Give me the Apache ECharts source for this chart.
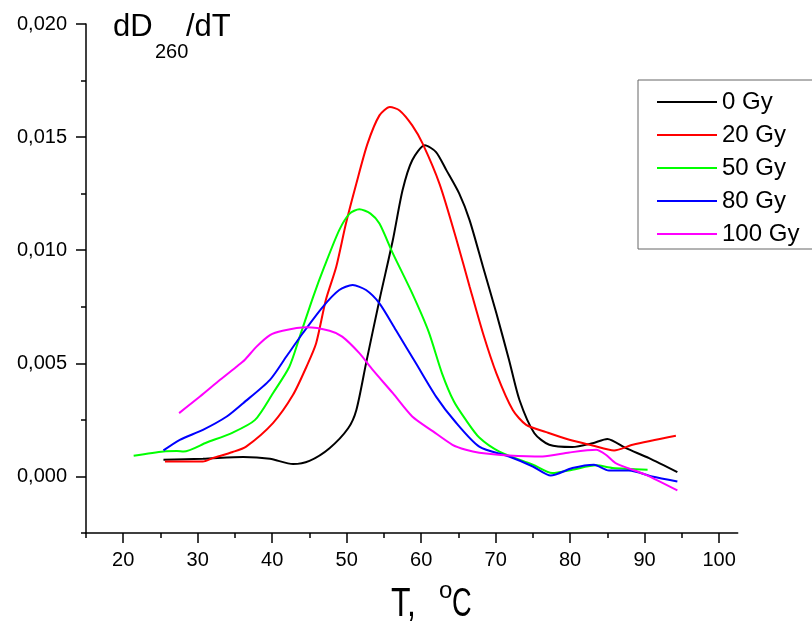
<!DOCTYPE html>
<html>
<head>
<meta charset="utf-8">
<script src="https://cdn.jsdelivr.net/npm/echarts@6/dist/echarts.min.js"></script>
<style>html,body{margin:0;padding:0;background:#fff;}#c{width:812px;height:625px;}</style>
</head>
<body>
<div id="c"></div>
<script>
// ---- data ----
const seriesNames = ['0 Gy', '20 Gy', '50 Gy', '80 Gy', '100 Gy'];

const t0 = [25.4, 30.7, 36.1, 39.7, 42.8, 45.0, 47.7, 50.2, 51.3, 52.6, 54.4, 56.2, 57.5, 58.8, 60.5, 62.0, 63.4, 65.1, 66.5, 68.3, 70.1, 71.8, 73.2, 75.2, 77.2, 80.3, 83.0, 85.0, 87.5, 90.6, 94.4];
const v0 = [0.00074, 0.00078, 0.00086, 0.00078, 0.00055, 0.00069, 0.00125, 0.00213, 0.00294, 0.0050, 0.0078, 0.01045, 0.01265, 0.01398, 0.01464, 0.01434, 0.01353, 0.01251, 0.01133, 0.00927, 0.00721, 0.00515, 0.00338, 0.00191, 0.0014, 0.0013, 0.00147, 0.00166, 0.00125, 0.00081, 0.00019];

const t20 = [25.6, 30.7, 32.0, 34.7, 36.5, 40.1, 42.8, 44.6, 45.9, 47.2, 48.6, 49.9, 51.3, 52.8, 54.4, 55.8, 57.1, 58.8, 60.2, 62.5, 64.8, 66.5, 68.3, 70.1, 72.3, 74.1, 76.8, 79.9, 83.0, 85.9, 88.4, 94.2];
const v20 = [0.00066, 0.00066, 0.00081, 0.00108, 0.00132, 0.00236, 0.00361, 0.00485, 0.00589, 0.0078, 0.00927, 0.01118, 0.01295, 0.01471, 0.01596, 0.01633, 0.01618, 0.01552, 0.01471, 0.0129, 0.0104, 0.0084, 0.00633, 0.00456, 0.00294, 0.00228, 0.00196, 0.00162, 0.00137, 0.00115, 0.0014, 0.0018];

const t50 = [21.4, 25.4, 27.2, 28.1, 31.2, 34.7, 37.7, 40.1, 42.3, 43.7, 45.5, 47.0, 49.0, 50.4, 51.7, 53.2, 54.4, 56.2, 58.8, 61.0, 62.8, 64.4, 66.0, 67.8, 70.5, 75.0, 77.6, 80.3, 83.5, 85.7, 90.4];
const v50 = [0.00091, 0.0011, 0.00112, 0.0011, 0.0015, 0.00194, 0.0025, 0.00368, 0.00485, 0.00618, 0.00794, 0.00927, 0.01089, 0.01162, 0.01181, 0.01162, 0.01118, 0.00986, 0.00809, 0.0064, 0.00456, 0.00331, 0.0025, 0.00172, 0.0011, 0.00052, 0.00015, 0.0003, 0.00049, 0.00037, 0.0003];

const t80 = [25.4, 27.6, 30.7, 33.9, 36.1, 39.7, 41.9, 44.1, 46.8, 49.0, 50.8, 52.6, 54.4, 56.6, 59.3, 62.0, 64.5, 67.8, 71.8, 75.0, 77.4, 80.3, 83.2, 85.2, 87.9, 91.0, 94.4];
const v80 = [0.00115, 0.00162, 0.00206, 0.00265, 0.00324, 0.00427, 0.0053, 0.00633, 0.0075, 0.00824, 0.00846, 0.00824, 0.00765, 0.00647, 0.005, 0.00353, 0.00245, 0.00132, 0.00088, 0.00044, 0.00004, 0.00037, 0.00052, 0.00026, 0.00026, 0.0, -0.00022];

const t100 = [27.5, 30.3, 33.0, 35.2, 36.3, 37.9, 39.7, 41.4, 44.6, 47.7, 49.4, 51.7, 53.5, 56.2, 58.8, 61.6, 64.2, 66.0, 67.8, 71.8, 76.3, 79.9, 83.5, 84.8, 86.1, 90.1, 94.4];
const v100 = [0.0028, 0.00353, 0.00427, 0.00485, 0.00515, 0.00574, 0.00625, 0.00644, 0.00659, 0.00644, 0.00618, 0.00545, 0.00471, 0.00368, 0.00265, 0.00199, 0.0014, 0.00118, 0.00105, 0.00093, 0.00088, 0.00106, 0.00118, 0.00096, 0.00059, 0.00008, -0.00062];

const xTickLabels = [20, 30, 40, 50, 60, 70, 80, 90, 100];
const yTickLabels = [0, 0.005, 0.010, 0.015, 0.020];
// ---------------------------------------

const colors = ['#000000', '#ff0000', '#00ff00', '#0000ff', '#ff00ff'];
const tArr = [t0, t20, t50, t80, t100];
const vArr = [v0, v20, v50, v80, v100];
const FONT = 'Liberation Sans, Arial, sans-serif';

// plot geometry (pixels)
const X0 = 86, Y0 = 24, W = 651.7, H = 509;
const XMIN = 15, XMAX = 102.5, YMIN = -0.0025, YMAX = 0.020;
const px = v => X0 + (v - XMIN) / (XMAX - XMIN) * W;
const py = v => Y0 + (YMAX - v) / (YMAX - YMIN) * H;

const chart = echarts.init(document.getElementById('c'), null, {renderer: 'canvas'});

const series = seriesNames.map((name, i) => ({
  name: name,
  type: 'line',
  xAxisIndex: 0,
  yAxisIndex: 0,
  data: tArr[i].map((t, k) => [t, vArr[i][k]]),
  showSymbol: false,
  symbol: 'none',
  smooth: 0.25,
  lineStyle: {color: colors[i], width: 2},
  itemStyle: {color: colors[i]},
  emphasis: {disabled: true}
}));

const axLine = () => ({color: '#000', width: 1.5});
const hidden = (extra) => Object.assign({type: 'value', show: false, min: 0, max: 1}, extra || {});

chart.setOption({
  animation: false,
  backgroundColor: '#fff',
  grid: [
    {left: X0, top: Y0, width: W, height: H, containLabel: false},                       // main
    {left: px(20), top: Y0, width: px(100) - px(20), height: H, containLabel: false},    // x major ticks
    {left: px(15), top: Y0, width: px(95) - px(15), height: H, containLabel: false},     // x minor ticks
    {left: X0, top: py(0.020), width: W, height: py(0) - py(0.020), containLabel: false},// y major ticks
    {left: X0, top: py(0.0175), width: W, height: py(-0.0025) - py(0.0175), containLabel: false} // y minor ticks
  ],
  xAxis: [
    {
      gridIndex: 0, type: 'value', min: XMIN, max: XMAX,
      axisLine: {show: true, onZero: false, lineStyle: axLine()},
      axisTick: {show: false},
      axisLabel: {show: true, margin: 17, fontSize: 20, fontFamily: FONT, color: '#000', customValues: xTickLabels},
      splitLine: {show: false}
    },
    {
      gridIndex: 1, type: 'value', min: 20, max: 100, interval: 10, position: 'bottom',
      axisLine: {show: false, onZero: false},
      axisTick: {show: true, inside: false, length: 10, lineStyle: axLine()},
      axisLabel: {show: false}, splitLine: {show: false}
    },
    {
      gridIndex: 2, type: 'value', min: 0, max: 8, interval: 1, position: 'bottom',
      axisLine: {show: false, onZero: false},
      axisTick: {show: true, inside: false, length: 5, lineStyle: axLine()},
      axisLabel: {show: false}, splitLine: {show: false}
    },
    hidden({gridIndex: 3}),
    hidden({gridIndex: 4})
  ],
  yAxis: [
    {
      gridIndex: 0, type: 'value', min: YMIN, max: YMAX,
      axisLine: {show: true, onZero: false, lineStyle: axLine()},
      axisTick: {show: false},
      axisLabel: {show: true, margin: 19, fontSize: 20, fontFamily: FONT, color: '#000', customValues: yTickLabels,
        formatter: v => v.toFixed(3).replace('.', ',')},
      splitLine: {show: false}
    },
    hidden({gridIndex: 1}),
    hidden({gridIndex: 2}),
    {
      gridIndex: 3, type: 'value', min: 0, max: 0.020, interval: 0.005, position: 'left',
      axisLine: {show: false, onZero: false},
      axisTick: {show: true, inside: false, length: 10, lineStyle: axLine()},
      axisLabel: {show: false}, splitLine: {show: false}
    },
    {
      gridIndex: 4, type: 'value', min: 0, max: 4, interval: 1, position: 'left',
      axisLine: {show: false, onZero: false},
      axisTick: {show: true, inside: false, length: 5, lineStyle: axLine()},
      axisLabel: {show: false}, splitLine: {show: false}
    }
  ],
  legend: {
    show: true,
    orient: 'vertical',
    left: 638, top: 80,
    padding: [10, 120, 3, 19],
    itemGap: 9,
    itemWidth: 60,
    itemHeight: 2,
    icon: 'rect',
    borderColor: '#666',
    borderWidth: 1,
    backgroundColor: '#fff',
    selectedMode: false,
    textStyle: {fontSize: 24, lineHeight: 24, fontFamily: FONT, color: '#000'},
    data: seriesNames
  },
  graphic: [
    {type: 'text', left: 113, top: 12, silent: true,
      style: {text: 'dD', font: '31px ' + FONT, fill: '#000'}},
    {type: 'text', left: 155, top: 42, silent: true,
      style: {text: '260', font: '20px ' + FONT, fill: '#000'}},
    {type: 'text', left: 186, top: 12, silent: true,
      style: {text: '/dT', font: '31px ' + FONT, fill: '#000'}},
    {type: 'text', x: 391, y: 585, scaleX: 0.8, silent: true,
      style: {text: 'T,', font: '40px ' + FONT, fill: '#000'}},
    {type: 'text', x: 439, y: 579, silent: true,
      style: {text: 'o', font: '24px ' + FONT, fill: '#000'}},
    {type: 'text', x: 452, y: 585, scaleX: 0.68, silent: true,
      style: {text: 'C', font: '40px ' + FONT, fill: '#000'}}
  ],
  series: series
});
</script>
</body>
</html>
